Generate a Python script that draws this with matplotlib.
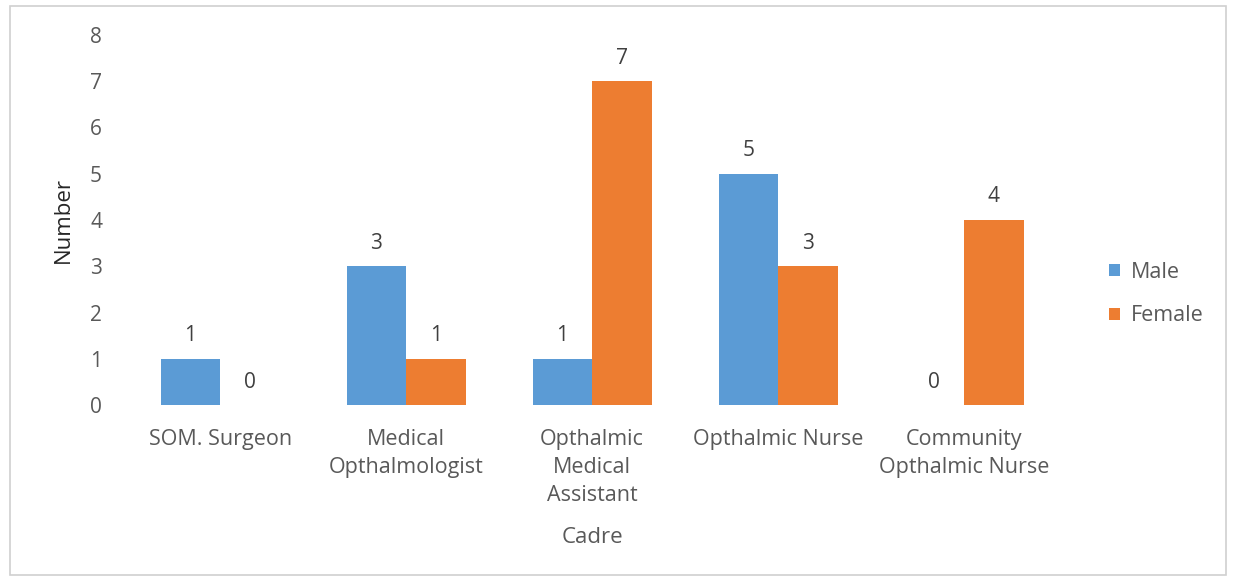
import numpy as np
import matplotlib.pyplot as plt
from matplotlib.patches import Rectangle

#Categories and counts
cadres = ["SOM. Surgeon", "Medical\nOpthalmologist", "Opthalmic\nMedical\nAssistant",
          "Opthalmic Nurse", "Community\nOpthalmic Nurse"]
male = [1, 3, 1, 5, 0]
female = [0, 1, 7, 3, 4]

blue = "#5B9BD5"
orange = "#ED7D31"
grey = "#595959"

plt.rcParams['font.family'] = ['Open Sans', 'DejaVu Sans']

fig = plt.figure(figsize=(12.36, 5.81), dpi=100)
ax = fig.add_axes([0.1028, 0.3029, 0.7525, 0.6369])

x = np.arange(len(cadres))
w = 0.32
b1 = ax.bar(x - w/2, male, w, color=blue, label="Male")
b2 = ax.bar(x + w/2, female, w, color=orange, label="Female")

#Value labels above each bar
for bars in (b1, b2):
    for b in bars:
        ax.annotate(str(int(b.get_height())), (b.get_x() + b.get_width()/2, b.get_height()),
                    xytext=(0, 9), textcoords="offset points", ha="center", va="bottom",
                    fontsize=15, color="#404040")

ax.set_xlim(-0.5, len(cadres) - 0.5)
ax.set_ylim(0, 8)
ax.set_yticks(range(0, 9))
ax.set_xticks(x)
ax.set_xticklabels(cadres, fontsize=15.5, color=grey, va="top", linespacing=1.45)
ax.tick_params(axis="y", labelsize=15, labelcolor=grey, length=0, pad=18)
ax.tick_params(axis="x", length=0, pad=17)
for s in ax.spines.values():
    s.set_visible(False)

ax.set_ylabel("Number", fontsize=16, color="#262626", labelpad=12)
ax.set_xlabel("Cadre", fontsize=16, color=grey, labelpad=15)

ax.legend(loc="center left", bbox_to_anchor=(1.035, 0.30), frameon=False, fontsize=15.5,
          handlelength=0.5, handleheight=0.5, handletextpad=0.5, labelspacing=1.05,
          labelcolor=grey)

#Light frame round the chart
fig.patches.append(Rectangle((0.008, 0.01), 0.984, 0.98, transform=fig.transFigure,
                             fill=False, edgecolor="#D0D0D0", linewidth=1.2))

fig.savefig("out.png", dpi=100)
